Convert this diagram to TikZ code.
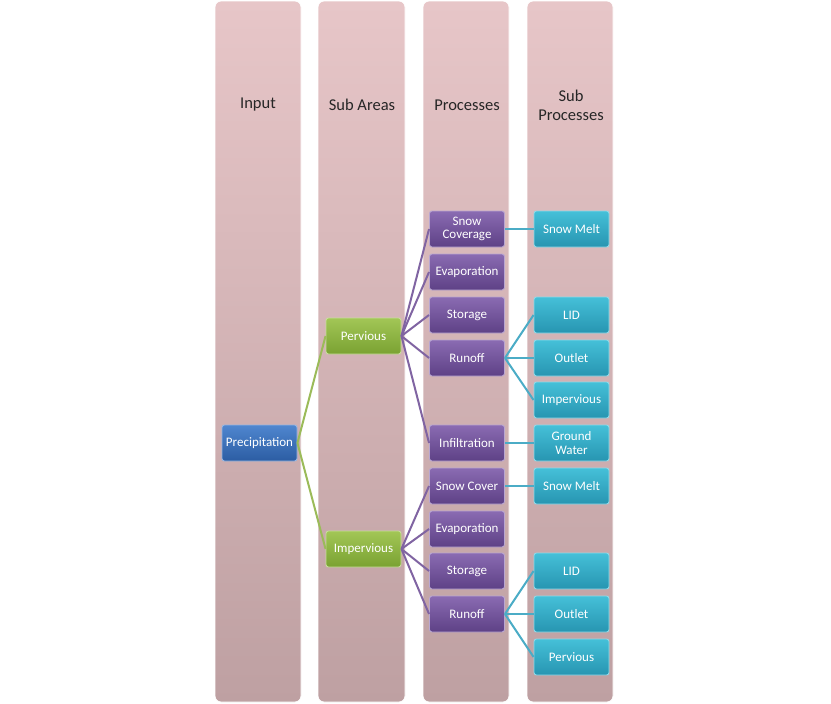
\documentclass[tikz,border=0pt]{standalone}
\usepackage{fontspec}
\setmainfont{Carlito}
\definecolor{coltop}{HTML}{E7C6C8}
\definecolor{colbot}{HTML}{BEA0A2}
\definecolor{bluetop}{HTML}{4F86CF}
\definecolor{bluebot}{HTML}{2C5DA3}
\definecolor{greentop}{HTML}{A2C656}
\definecolor{greenbot}{HTML}{7AA232}
\definecolor{purptop}{HTML}{8A6BB2}
\definecolor{purpbot}{HTML}{5E4186}
\definecolor{tealtop}{HTML}{45C0D8}
\definecolor{tealbot}{HTML}{2795B1}
\definecolor{gline}{HTML}{9BBB59}
\definecolor{pline}{HTML}{8064A2}
\definecolor{tline}{HTML}{4BACC6}
\tikzset{
  column/.style={rounded corners=6pt, top color=coltop, bottom color=colbot, draw=white, line width=0.8pt},
  header/.style={font=\fontsize{16.5}{19}\selectfont, text=black!85, align=center},
  box/.style={rounded corners=2.5pt, minimum width=75pt, minimum height=36pt, inner sep=1pt,
     text=white, font=\fontsize{13}{14.5}\selectfont, align=center, line width=0.9pt},
  bluebox/.style={box, top color=bluetop, bottom color=bluebot, draw=bluetop!60!white},
  greenbox/.style={box, top color=greentop, bottom color=greenbot, draw=greentop!60!white},
  purpbox/.style={box, top color=purptop, bottom color=purpbot, draw=purptop!60!white},
  tealbox/.style={box, top color=tealtop, bottom color=tealbot, draw=tealtop!60!white},
  gconn/.style={draw=gline, line width=2pt},
  pconn/.style={draw=pline, line width=2pt},
  tconn/.style={draw=tline, line width=2pt},
}
\begin{document}
\begin{tikzpicture}[x=1pt,y=-1pt]
\useasboundingbox (0,0) rectangle (831,704);
% columns
\path[column] (215,1) rectangle (301,702);
\path[column] (318,1) rectangle (405,702);
\path[column] (423,1) rectangle (509,702);
\path[column] (527,1) rectangle (613,702);
\node[header] (h1) at (258,105) {Input};
\node[header] (h2) at (362,105) {Sub Areas};
\node[header] (h3) at (467,105) {Processes};
\node[header] (h4) at (571,105) {Sub\\Processes};
% nodes
\node[bluebox] (prec) at (259.5,443) {Precipitation};
\node[greenbox] (perv) at (363.5,336) {Pervious};
\node[greenbox] (imp) at (363.5,549) {Impervious};
\node[purpbox] (p1) at (467,229) {Snow\\[-1pt]Coverage};
\node[purpbox] (p2) at (467,272) {Evaporation};
\node[purpbox] (p3) at (467,315) {Storage};
\node[purpbox] (p4) at (467,358) {Runoff};
\node[purpbox] (p5) at (467,443) {Infiltration};
\node[purpbox] (p6) at (467,486) {Snow Cover};
\node[purpbox] (p7) at (467,529) {Evaporation};
\node[purpbox] (p8) at (467,571) {Storage};
\node[purpbox] (p9) at (467,614) {Runoff};
\node[tealbox] (s1) at (571.5,229) {Snow Melt};
\node[tealbox] (s2) at (571.5,315) {LID};
\node[tealbox] (s3) at (571.5,358) {Outlet};
\node[tealbox] (s4) at (571.5,400) {Impervious};
\node[tealbox] (s5) at (571.5,443) {Ground\\[-1pt]Water};
\node[tealbox] (s6) at (571.5,486) {Snow Melt};
\node[tealbox] (s7) at (571.5,571) {LID};
\node[tealbox] (s8) at (571.5,614) {Outlet};
\node[tealbox] (s9) at (571.5,657) {Pervious};
% connectors
\draw[gconn] (prec.east) -- (perv.west);
\draw[gconn] (prec.east) -- (imp.west);
\foreach \p in {p1,p2,p3,p4,p5} \draw[pconn] (perv.east) -- (\p.west);
\foreach \p in {p6,p7,p8,p9} \draw[pconn] (imp.east) -- (\p.west);
\draw[tconn] (p1.east) -- (s1.west);
\foreach \s in {s2,s3,s4} \draw[tconn] (p4.east) -- (\s.west);
\draw[tconn] (p5.east) -- (s5.west);
\draw[tconn] (p6.east) -- (s6.west);
\foreach \s in {s7,s8,s9} \draw[tconn] (p9.east) -- (\s.west);
\end{tikzpicture}
\end{document}
